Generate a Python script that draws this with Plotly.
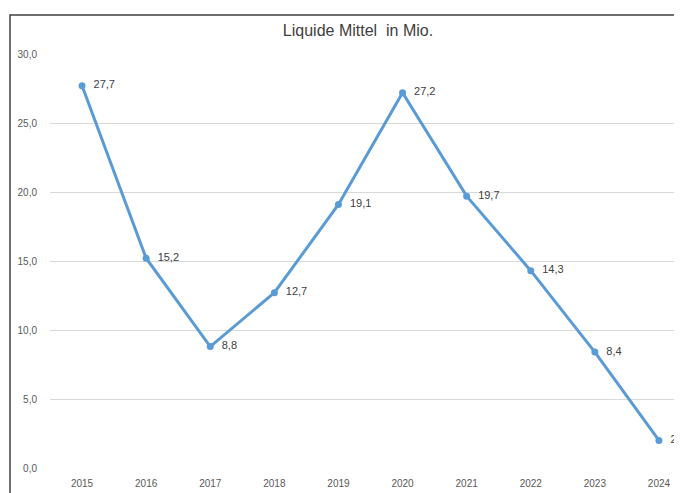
import plotly.graph_objects as go

years = ["2015", "2016", "2017", "2018", "2019", "2020", "2021", "2022", "2023", "2024"]
values = [27.7, 15.2, 8.8, 12.7, 19.1, 27.2, 19.7, 14.3, 8.4, 2.0]
y_ticks = [0, 5, 10, 15, 20, 25, 30]
y_tick_labels = ["0,0", "5,0", "10,0", "15,0", "20,0", "25,0", "30,0"]
title_text = "Liquide Mittel  in Mio."

labels = ["\u00a0\u00a0" + f"{v:.1f}".replace(".", ",") for v in values]

# page body has an 8px margin: shrink the figure and shift by -8
OFF = 8
W, H = 682 - OFF, 493 - OFF
ml, mt, mb = 50 - OFF, 54 - OFF, 25
plot_w = W - ml
plot_h = H - mt - mb

fig = go.Figure()
fig.add_trace(go.Scatter(
    x=list(range(len(years))), y=values,
    mode="lines+markers+text",
    line=dict(color="#5B9BD5", width=3),
    marker=dict(color="#5B9BD5", size=7),
    text=labels, textposition="middle right",
    textfont=dict(family="Liberation Sans, Arial, sans-serif", size=11, color="#404040"),
    cliponaxis=False, hoverinfo="skip",
))

fig.update_layout(
    width=W, height=H,
    margin=dict(l=ml, r=0, t=mt, b=mb, pad=0),
    paper_bgcolor="white", plot_bgcolor="white",
    showlegend=False,
    title=dict(text=title_text, x=(358 - OFF) / W, xanchor="center", y=1 - (30 - OFF) / H, yanchor="middle",
               font=dict(family="Liberation Sans, Arial, sans-serif", size=16, color="#404040")),
    font=dict(family="Liberation Sans, Arial, sans-serif", size=10, color="#595959"),
)

fig.update_xaxes(
    range=[-0.5, -0.5 + plot_w / 64.1],
    tickmode="array", tickvals=list(range(len(years))), ticktext=years,
    showgrid=False, zeroline=False, showline=False, ticks="",
    ticklabelstandoff=8,
    tickfont=dict(size=10, color="#595959"),
)
fig.update_yaxes(
    range=[0, 30],
    tickmode="array", tickvals=y_ticks, ticktext=y_tick_labels,
    showgrid=True, gridcolor="#D9D9D9", gridwidth=1,
    zeroline=False, showline=False, ticks="", ticklabelstandoff=12,
    tickfont=dict(size=10, color="#595959"),
)

# chart frame (cropped on the right and bottom)
fig.add_shape(type="rect", xref="paper", yref="paper",
              x0=(10 - 50) / plot_w, x1=1.2,
              y0=-0.3, y1=(H - mb - (15 - OFF)) / plot_h,
              line=dict(color="#404040", width=1.5), fillcolor="rgba(0,0,0,0)", layer="below")

fig.write_html("out.html")
